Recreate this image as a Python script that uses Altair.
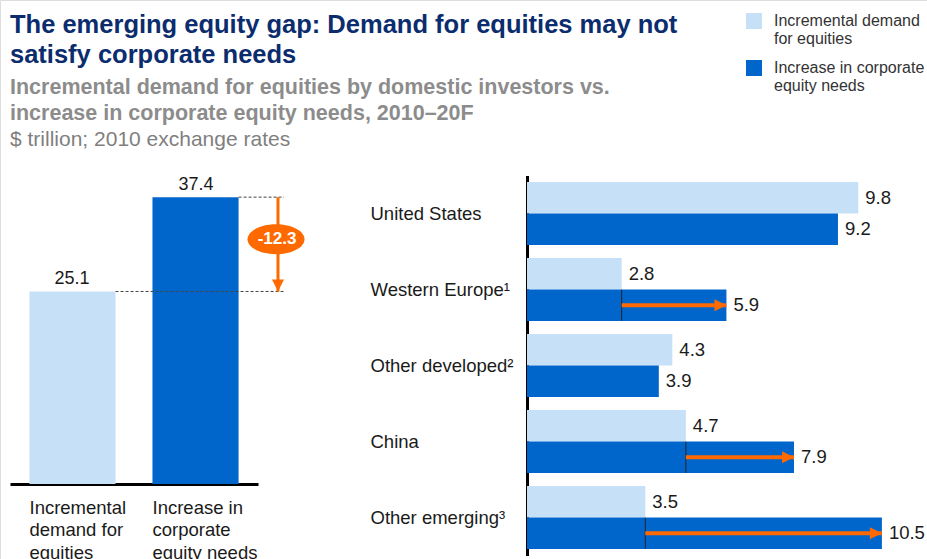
import altair as alt
import pandas as pd

FONT = "Liberation Sans"
LIGHT = "#C6E0F8"
DARK = "#0066CC"
ORANGE = "#FF6A00"
NAVY = "#0B2D6E"
GREY = "#8C8C8C"
INK = "#1A1A1A"

# ---- text ----
title_lines = ["The emerging equity gap: Demand for equities may not",
               "satisfy corporate needs"]
subtitle_lines = ["Incremental demand for equities by domestic investors vs.",
                  "increase in corporate equity needs, 2010\u201320F"]
unit_line = ["$ trillion; 2010 exchange rates"]

# ---- series ----
legend_labels = [["Incremental demand", "for equities"],
                 ["Increase in corporate", "equity needs"]]
axis_labels = [["Incremental", "demand for", "equities"],
               ["Increase in", "corporate", "equity needs"]]

# ---- totals (left panel) ----
total_values = [25.1, 37.4]
gap_label = ["-12.3"]

# ---- regions (right panel) ----
regions = ["United States", "Western Europe\u00b9", "Other developed\u00b2",
           "China", "Other emerging\u00b3"]
demand_values = [9.8, 2.8, 4.3, 4.7, 3.5]
needs_values = [9.2, 5.9, 3.9, 7.9, 10.5]

series_names = ["|".join(l) for l in legend_labels]
axis_names = ["|".join(l) for l in axis_labels]

left_df = pd.DataFrame({"series": series_names, "axis_label": axis_names,
                        "value": total_values})
gap_df = pd.DataFrame({"top": [max(total_values)], "bottom": [min(total_values)],
                       "gap": gap_label})
gap_df["mid"] = (gap_df["top"] + gap_df["bottom"]) / 2

right_rows = []
for r, d, n in zip(regions, demand_values, needs_values):
    right_rows.append({"region": r, "series": series_names[0], "value": d})
    right_rows.append({"region": r, "series": series_names[1], "value": n})
right_df = pd.DataFrame(right_rows)

arrow_df = pd.DataFrame([{"region": r, "series": series_names[1], "from": d, "to": n}
                         for r, d, n in zip(regions, demand_values, needs_values) if n > d])
unit_df = pd.DataFrame({"t": unit_line})

# ---- scales ----
x_left = alt.Scale(domain=axis_names, range=[10, 258], paddingInner=0.3, paddingOuter=0.158)
y_left = alt.Scale(domain=[0, 40], range=[484, 177.2], nice=False, zero=True)
x_right = alt.Scale(domain=[0, 10], range=[527, 865], nice=False, zero=True)
y_right = alt.Scale(domain=regions, range=[175.5, 555.5], paddingInner=0.171, paddingOuter=0.0855)
y_off = alt.Scale(domain=series_names, paddingInner=0, paddingOuter=0)
color_scale = alt.Scale(domain=series_names, range=[LIGHT, DARK])

legend = alt.Legend(orient="none", legendX=746, legendY=13, title=None,
                    symbolType="square", symbolSize=256, symbolStrokeWidth=0,
                    symbolOpacity=1, labelFont=FONT, labelFontSize=16,
                    labelColor="#333333",
                    labelExpr="split(datum.label, '|')",
                    labelOffset=12, labelLimit=0, padding=0, rowPadding=13)
color = alt.Color("series:N", scale=color_scale, legend=legend)

RIGHT_HEAD = "M -1 -1 L 1 0 L -1 1 Z"
DOWN_HEAD = "M -1 -1 L 1 -1 L 0 1 Z"
ELLIPSE = "M -1 0 A 1 0.526 0 1 0 1 0 A 1 0.526 0 1 0 -1 0 Z"

# ---- left panel ----
left_bars = alt.Chart(left_df).mark_bar().encode(
    x=alt.X("axis_label:N", scale=x_left, sort=None,
            axis=alt.Axis(orient="bottom", offset=-75, title=None, ticks=False,
                          domainColor="black", domainWidth=3, grid=False,
                          labelExpr="split(datum.label, '|')", labelAlign="left",
                          labelBaseline="top", labelPadding=14, labelOffset=-43,
                          labelFont=FONT, labelFontSize=18.5, labelLineHeight=22.5,
                          labelColor=INK, labelAngle=0, labelOverlap=False,
                          labelLimit=0)),
    y=alt.Y("value:Q", scale=y_left, axis=None),
    color=color,
)
left_labels = alt.Chart(left_df).mark_text(
    baseline="alphabetic", dy=-7, font=FONT, fontSize=18, color=INK
).encode(
    x=alt.X("axis_label:N", scale=x_left, axis=None, sort=None),
    y=alt.Y("value:Q", scale=y_left, axis=None),
    text=alt.Text("value:Q", format=".1f"),
)
left_dash = alt.Chart(left_df).mark_rule(
    color="#444444", strokeWidth=1, strokeDash=[3, 2]
).encode(
    x=alt.X("axis_label:N", scale=x_left, axis=None, sort=None, bandPosition=1),
    x2=alt.value(284),
    y=alt.Y("value:Q", scale=y_left, axis=None),
)
gap_shaft = alt.Chart(gap_df).mark_rule(color=ORANGE, strokeWidth=3).encode(
    x=alt.value(278),
    y=alt.Y("top:Q", scale=y_left, axis=None),
    y2="bottom:Q",
)
gap_head = alt.Chart(gap_df).mark_point(
    shape=DOWN_HEAD, size=144, filled=True, color=ORANGE, opacity=1, yOffset=-6
).encode(x=alt.value(278), y=alt.Y("bottom:Q", scale=y_left, axis=None))
gap_oval = alt.Chart(gap_df).mark_point(
    shape=ELLIPSE, size=3249, filled=True, color=ORANGE, opacity=1, yOffset=-5
).encode(x=alt.value(276), y=alt.Y("mid:Q", scale=y_left, axis=None))
gap_text = alt.Chart(gap_df).mark_text(
    color="white", fontWeight="bold", font=FONT, fontSize=17, baseline="middle",
    align="center", dy=-5
).encode(x=alt.value(277), y=alt.Y("mid:Q", scale=y_left, axis=None), text="gap:N")

# ---- right panel ----
right_bars = alt.Chart(right_df).mark_bar().encode(
    x=alt.X("value:Q", scale=x_right, axis=None),
    y=alt.Y("region:N", scale=y_right, sort=None,
            axis=alt.Axis(orient="left", offset=-527, title=None, ticks=False,
                          domainColor="black", domainWidth=3, grid=False,
                          labelAlign="left", labelBaseline="middle",
                          labelPadding=157, labelFont=FONT, labelFontSize=18.5,
                          labelColor=INK, labelLimit=0, labelOverlap=False)),
    yOffset=alt.YOffset("series:N", scale=y_off, sort=None),
    color=color,
)
right_labels = alt.Chart(right_df).mark_text(
    align="left", baseline="middle", dx=7, font=FONT, fontSize=18.5, color=INK
).encode(
    x=alt.X("value:Q", scale=x_right, axis=None),
    y=alt.Y("region:N", scale=y_right, axis=None, sort=None),
    yOffset=alt.YOffset("series:N", scale=y_off, sort=None),
    text=alt.Text("value:Q", format=".1f"),
)
right_tick = alt.Chart(arrow_df).mark_tick(
    color="#222222", thickness=1, size=31, opacity=1
).encode(
    x=alt.X("from:Q", scale=x_right, axis=None),
    y=alt.Y("region:N", scale=y_right, axis=None, sort=None),
    yOffset=alt.YOffset("series:N", scale=y_off, sort=None),
)
right_shaft = alt.Chart(arrow_df).mark_rule(color=ORANGE, strokeWidth=4).encode(
    x=alt.X("from:Q", scale=x_right, axis=None),
    x2="to:Q",
    y=alt.Y("region:N", scale=y_right, axis=None, sort=None),
    yOffset=alt.YOffset("series:N", scale=y_off, sort=None),
)
right_head = alt.Chart(arrow_df).mark_point(
    shape=RIGHT_HEAD, size=144, filled=True, color=ORANGE, opacity=1, xOffset=-6
).encode(
    x=alt.X("to:Q", scale=x_right, axis=None),
    y=alt.Y("region:N", scale=y_right, axis=None, sort=None),
    yOffset=alt.YOffset("series:N", scale=y_off, sort=None),
)

unit_text = alt.Chart(unit_df).mark_text(
    align="left", baseline="alphabetic", font=FONT, fontSize=21, color="#7F7F7F"
).encode(x=alt.value(10), y=alt.value(146), text="t:N")

chart = alt.layer(
    left_bars, left_dash, gap_shaft, gap_head, gap_oval, gap_text, left_labels,
    right_bars, right_tick, right_shaft, right_head, right_labels, unit_text,
).resolve_scale(
    x="independent", y="independent"
).properties(
    width=927, height=559, padding=0,
    autosize=alt.AutoSizeParams(type="none"),
    title=alt.TitleParams(
        text=title_lines, subtitle=subtitle_lines, anchor="start", frame="group",
        orient="top", offset=-124, dx=10, baseline="top",
        font=FONT, fontSize=25.5, fontWeight="bold", color=NAVY, lineHeight=30,
        subtitleFont=FONT, subtitleFontSize=21.5, subtitleFontWeight="bold",
        subtitleColor=GREY, subtitleLineHeight=25.5, subtitlePadding=8.5,
    ),
).configure_view(stroke=None).configure(background="white")

chart.save("out.html", embed_options={"renderer": "svg", "actions": False})
